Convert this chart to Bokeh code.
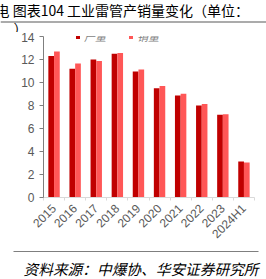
import numpy as np
from bokeh.plotting import figure
from bokeh.layouts import column
from bokeh.models import (Range1d, FixedTicker, Legend, LegendItem, ColumnDataSource,
                          Label, BoxAnnotation)
from bokeh.embed import file_html
from bokeh.resources import INLINE

categories = ["2015", "2016", "2017", "2018", "2019", "2020", "2021", "2022", "2023", "2024H1"]
production = [12.3, 11.2, 12.0, 12.5, 10.95, 9.5, 8.88, 8.0, 7.2, 3.12]
sales = [12.7, 11.65, 11.88, 12.56, 11.12, 9.7, 9.02, 8.12, 7.25, 3.04]
y_ticks = [0, 2, 4, 6, 8, 10, 12, 14]

title_line1 = "电 图表104 工业雷管产销量变化（单位："
title_line2 = "）"
source_text = "资料来源：中爆协、华安证券研究所"

W = 266


def blank_fig(h):
    f = figure(width=W, height=h, output_backend="svg", toolbar_location=None, title=None,
               x_axis_location=None, y_axis_location=None,
               x_range=Range1d(0, 1), y_range=Range1d(0, 1),
               min_border_left=0, min_border_right=0, min_border_top=0, min_border_bottom=0,
               frame_align=False)
    f.outline_line_color = None
    f.grid.visible = False
    f.background_fill_color = "white"
    f.border_fill_color = "white"
    return f


def rule(left, right, y, color):
    return BoxAnnotation(left=left, right=right, bottom=y - 0.5, top=y + 0.5,
                         left_units="screen", right_units="screen",
                         bottom_units="screen", top_units="screen",
                         fill_color=color, fill_alpha=1, line_color=None)


# ---- header strip: title (two lines) and the rule between them
p_head = blank_fig(32)
p_head.add_layout(Label(x=-5, y=22.5, x_units="screen", y_units="screen", text=title_line1,
                        text_font="Noto Sans CJK SC", text_font_size="14px", text_color="#000000",
                        text_baseline="middle"))
p_head.add_layout(Label(x=13, y=4.5, x_units="screen", y_units="screen", text=title_line2,
                        text_font="Noto Sans CJK SC", text_font_size="14px", text_color="#000000",
                        text_baseline="middle"))
p_head.add_layout(rule(0, W, 10.5, "#595959"))

# ---- main chart
n = len(categories)
centers = np.arange(n) + 0.5
bw = 0.27
src = ColumnDataSource(dict(xp=centers - bw / 2, xs=centers + bw / 2, prod=production, sales=sales))

p = figure(width=W, height=217, output_backend="svg", toolbar_location=None, title=None,
           x_range=Range1d(0, n), y_range=Range1d(0, 14), frame_align=False,
           min_border_left=43, min_border_right=12, min_border_top=4, min_border_bottom=47)
p.outline_line_color = None
p.grid.grid_line_color = None
p.background_fill_color = "white"
p.border_fill_color = "white"

r1 = p.vbar(x="xp", top="prod", width=bw, source=src, fill_color="#C00000", line_color=None)
r2 = p.vbar(x="xs", top="sales", width=bw, source=src, fill_color="#FF5757", line_color=None)

p.xaxis.ticker = FixedTicker(ticks=list(centers), minor_ticks=list(np.arange(n + 1)))
p.xaxis.major_label_overrides = {float(c): cat for c, cat in zip(centers, categories)}
p.xaxis.major_label_orientation = np.pi / 4
p.xaxis.major_tick_line_color = None
p.xaxis.major_tick_out = 0
p.xaxis.major_tick_in = 0
p.xaxis.minor_tick_in = 0
p.xaxis.minor_tick_out = 3
p.xaxis.minor_tick_line_color = "#D9D9D9"
p.xaxis.axis_line_color = "#D9D9D9"
p.xaxis.major_label_text_font = "Liberation Sans"
p.xaxis.major_label_text_font_size = "12px"
p.xaxis.major_label_text_color = "#595959"
p.xaxis.major_label_standoff = 6

p.yaxis.ticker = FixedTicker(ticks=y_ticks)
p.yaxis.minor_tick_line_color = None
p.yaxis.major_tick_in = 0
p.yaxis.major_tick_out = 4
p.yaxis.major_tick_line_color = "#7F7F7F"
p.yaxis.axis_line_color = "#7F7F7F"
p.yaxis.major_label_text_font = "Liberation Sans"
p.yaxis.major_label_text_font_size = "12px"
p.yaxis.major_label_text_color = "#595959"
p.yaxis.major_label_standoff = 5

legend = Legend(items=[LegendItem(label="产量", renderers=[r1]), LegendItem(label="销量", renderers=[r2])],
                orientation="horizontal", location=(32, 153),
                label_text_font="Noto Sans CJK SC", label_text_font_size="11px",
                label_text_color="#7F7F7F", label_text_font_style="italic",
                glyph_width=5, glyph_height=5, label_standoff=4, spacing=22,
                padding=0, margin=0, border_line_color=None, background_fill_alpha=0,
                label_height=10)
p.add_layout(legend)

# ---- bottom strip: rule + source
p_bot = blank_fig(30)
p_bot.add_layout(rule(13, 258, 28, "#7F7F7F"))
p_bot.add_layout(Label(x=23, y=11, x_units="screen", y_units="screen", text=source_text,
                       text_font="Noto Sans CJK SC", text_font_size="14.7px", text_color="#000000",
                       text_font_style="italic", text_baseline="middle"))

layout = column(p_head, p, p_bot, spacing=0)
open("out.html", "w").write(file_html(layout, INLINE))
